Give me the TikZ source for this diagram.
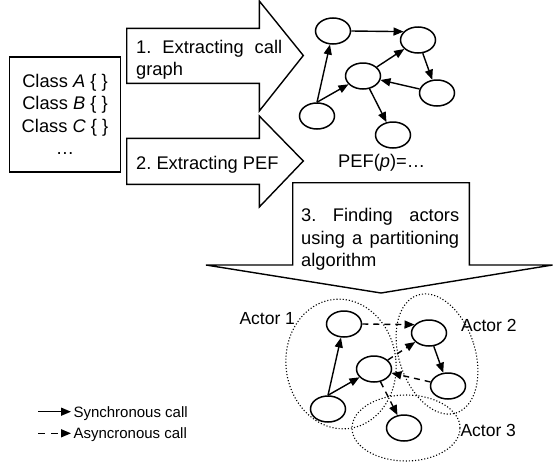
\documentclass[tikz,border=0pt]{standalone}
\usepackage{fontspec}
\setmainfont{Liberation Sans}
\usetikzlibrary{shapes.geometric,arrows.meta,positioning}
\tikzset{call node/.style={ellipse,draw,line width=1.5pt,minimum width=35pt,minimum height=26pt,inner sep=0pt},
         sync/.style={->,line width=1.4pt},
         async/.style={->,line width=1.4pt,dash pattern=on 6pt off 5pt},
         actor/.style={ellipse,draw,dotted,line width=1.1pt,inner sep=0pt},
         big arrow/.style={draw,line width=1.4pt,line join=miter},
         step text/.style={inner sep=0pt,align=justify,anchor=north west},
         actor label/.style={inner sep=0pt,anchor=base west,font=\fontsize{17.5}{21}\selectfont},
         legend text/.style={inner sep=0pt,anchor=base west,font=\fontsize{15}{18}\selectfont}
}
\frenchspacing
\begin{document}
\begin{tikzpicture}[x=1pt,y=-1pt,
>={Triangle[length=10pt,width=8pt]},
font=\fontsize{18.3}{22.5}\selectfont\frenchspacing]
\useasboundingbox (0,0) rectangle (553,466);
% \draw[help lines] (0,0) grid[step=50] (553,466);

% input
\node[draw,line width=1.4pt,minimum width=111pt,minimum height=115pt,inner sep=0pt,align=center] (classes) at (65,114.3)
    {Class \textit{A} \{ \}\\Class \textit{B} \{ \}\\Class \textit{C} \{ \}\\…};

% the three steps
\draw[big arrow] (126.7,28.3) -- (259.3,28.3) -- (259.3,1) -- (303.3,55.5) -- (259.3,111) -- (259.3,83.3) -- (126.7,83.3) -- cycle;
\draw[big arrow] (126.7,138.3) -- (259.3,138.3) -- (259.3,116) -- (303.3,161) -- (259.3,207) -- (259.3,184.3) -- (126.7,184.3) -- cycle;
\draw[big arrow] (292.7,182.7) -- (469.3,182.7) -- (469.3,265) -- (552.5,265) -- (381,293) -- (206,265) -- (292.7,265) -- cycle;

\node[step text,text width=146pt] (step1) at (136,40) {1. Extracting call\linebreak graph};
\node[inner sep=0pt,anchor=base west] (step2) at (136,169.3) {2. Extracting PEF};
\node[step text,text width=158pt] (step3) at (301,208.3) {3. Finding actors\linebreak using a partitioning\linebreak algorithm};

% call graph
\node[call node] (a1) at (333,31) {};
\node[call node] (a2) at (418,40) {};
\node[call node] (a3) at (363,76) {};
\node[call node] (a4) at (437,93) {};
\node[call node] (a5) at (317,116) {};
\node[call node] (a6) at (393,135) {};
\draw[sync] (a5.north) -- (a1);
\draw[sync] (a5.north) -- (a3);
\draw[sync] (a1.east) -- (a2.150);
\draw[sync] (a3) -- (a2);
\draw[sync] (a2) -- (a4);
\draw[sync] (a4) -- (a3);
\draw[sync] (a3) -- (a6);
\node[inner sep=0pt,anchor=base] (pef) at (381.7,167.6) {PEF(\textit{p})=…};

% actors
\node[actor,minimum width=110pt,minimum height=130pt,rotate=7] (actor1) at (341,364) {};
\node[actor,minimum width=76pt,minimum height=124pt,rotate=18] (actor2) at (437,354) {};
\node[actor,minimum width=108pt,minimum height=66pt] (actor3) at (406,428) {};
\node[actor label] at (239.3,324.5) {Actor 1};
\node[actor label] at (461,331.3) {Actor 2};
\node[actor label] at (460.3,436.3) {Actor 3};

\begin{scope}[shift={(11,293)}]
\node[call node] (b1) at (333,31) {};
\node[call node] (b2) at (418,40) {};
\node[call node] (b3) at (363,76) {};
\node[call node] (b4) at (437,93) {};
\node[call node] (b5) at (317,116) {};
\node[call node] (b6) at (393,135) {};
\end{scope}
\draw[sync] (b5.north) -- (b1);
\draw[sync] (b5.north) -- (b3);
\draw[async] (b1.east) -- (b2.150);
\draw[async] (b3) -- (b2);
\draw[sync] (b2) -- (b4);
\draw[async] (b4) -- (b3);
\draw[async] (b3) -- (b6);

% legend
\coordinate (sync from) at (38,411.7);
\coordinate (sync to) at (71,411.7);
\coordinate (async from) at (38,433.3);
\coordinate (async to) at (71,433.3);
\draw[sync] (sync from) -- (sync to);
\draw[async,dash pattern=on 7pt off 6pt] (async from) -- (async to);
\node[legend text] (sync label) at (73.3,417.4) {Synchronous call};
\node[legend text] (async label) at (73.3,438.4) {Asyncronous call};
\end{tikzpicture}
\end{document}
